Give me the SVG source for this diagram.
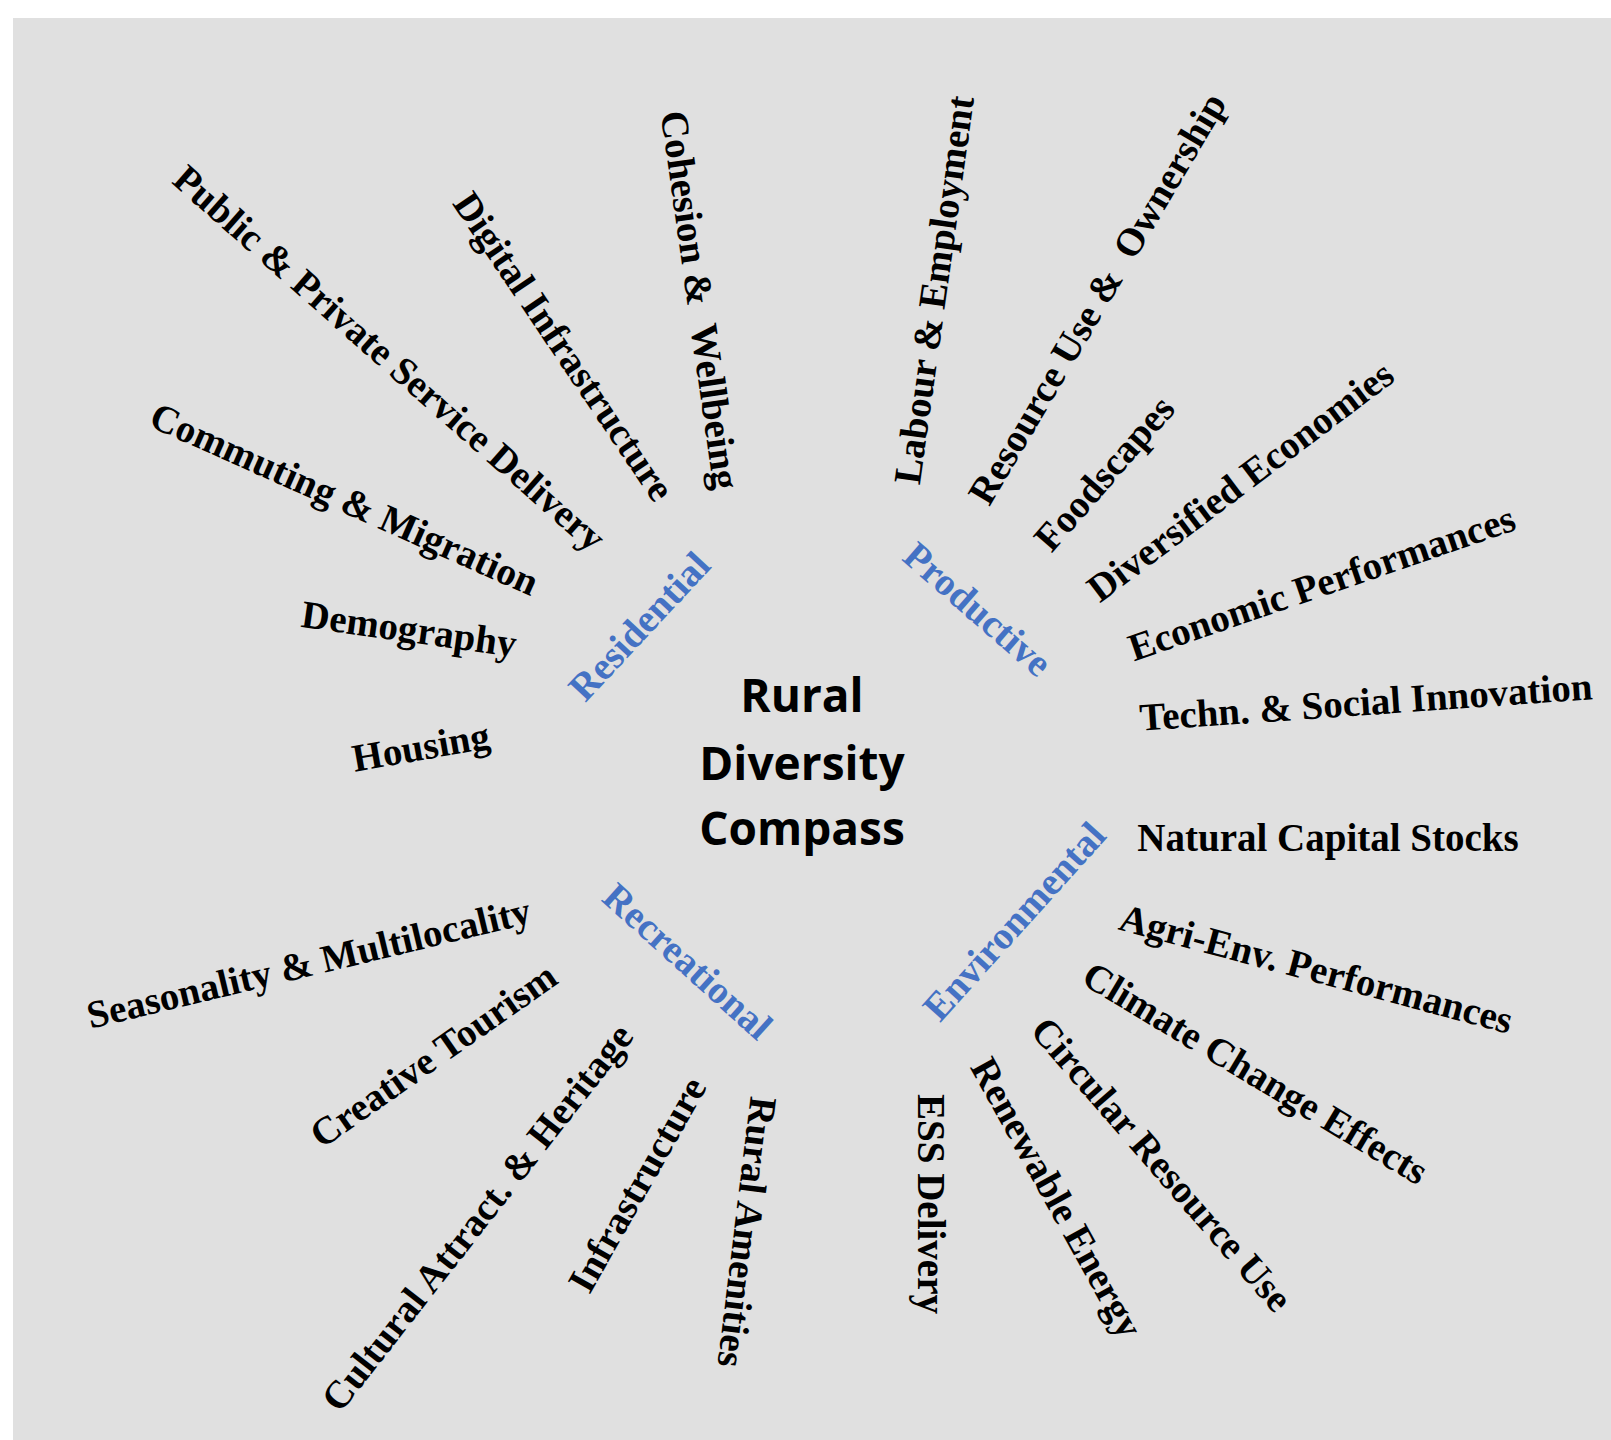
<svg xmlns="http://www.w3.org/2000/svg" width="1611" height="1440" viewBox="0 0 1611 1440">
<style>
.lbl{font-family:"Liberation Serif","Times New Roman",serif;font-weight:bold;font-size:39px;fill:#000;text-anchor:middle}
.cat{fill:#4472C4}
.title{font-family:"Open Sans","Noto Sans",sans-serif;font-weight:bold;font-size:46px;fill:#000;text-anchor:middle}
</style>
<rect x="0" y="0" width="1611" height="1440" fill="#ffffff"/>
<rect x="13" y="18" width="1598" height="1422" fill="#e0e0e0"/>
<g id="center">
<text class="title" x="802" y="712">Rural</text>
<text class="title" x="802" y="780">Diversity</text>
<text class="title" x="802" y="845">Compass</text>
</g>
<g id="cat-residential"><text class="lbl cat" transform="translate(640,627) rotate(-47)" y="12">Residential</text></g>
<g id="cat-productive"><text class="lbl cat" transform="translate(977,610) rotate(41)" y="12">Productive</text></g>
<g id="cat-environmental"><text class="lbl cat" transform="translate(1015,922) rotate(-48)" y="12">Environmental</text></g>
<g id="cat-recreational"><text class="lbl cat" transform="translate(687,962) rotate(42)" y="12">Recreational</text></g>
<g id="n-cohesion"><text class="lbl" xml:space="preserve" transform="translate(699,300) rotate(82)" y="12">Cohesion &amp;  Wellbeing</text></g>
<g id="n-digital"><text class="lbl" transform="translate(563,347) rotate(56)" y="12">Digital Infrastructure</text></g>
<g id="n-public"><text class="lbl" transform="translate(389,359) rotate(41.4)" y="12">Public &amp; Private Service Delivery</text></g>
<g id="n-commuting"><text class="lbl" transform="translate(344,500) rotate(24)" y="12">Commuting &amp; Migration</text></g>
<g id="n-demography"><text class="lbl" transform="translate(409,630) rotate(8)" y="12">Demography</text></g>
<g id="n-housing"><text class="lbl" transform="translate(421,748) rotate(-10)" y="12">Housing</text></g>
<g id="n-labour"><text class="lbl" transform="translate(935,290) rotate(-82)" y="12">Labour &amp; Employment</text></g>
<g id="n-resource"><text class="lbl" xml:space="preserve" transform="translate(1098,299) rotate(-59.5)" y="12">Resource Use &amp;  Ownership</text></g>
<g id="n-foodscapes"><text class="lbl" transform="translate(1105,474) rotate(-49)" y="12">Foodscapes</text></g>
<g id="n-diversified"><text class="lbl" transform="translate(1241,482) rotate(-37)" y="12">Diversified Economies</text></g>
<g id="n-economic"><text class="lbl" transform="translate(1322,584) rotate(-19)" y="12">Economic Performances</text></g>
<g id="n-techn"><text class="lbl" transform="translate(1366,703) rotate(-4)" y="12">Techn. &amp; Social Innovation</text></g>
<g id="n-natural"><text class="lbl" x="1328" y="851">Natural Capital Stocks</text></g>
<g id="n-agri"><text class="lbl" transform="translate(1316,970) rotate(15)" y="12">Agri-Env. Performances</text></g>
<g id="n-climate"><text class="lbl" transform="translate(1255,1074) rotate(31)" y="12">Climate Change Effects</text></g>
<g id="n-circular"><text class="lbl" transform="translate(1161,1165) rotate(49)" y="12">Circular Resource Use</text></g>
<g id="n-renewable"><text class="lbl" transform="translate(1056,1198) rotate(61)" y="12">Renewable Energy</text></g>
<g id="n-ess"><text class="lbl" transform="translate(930,1204) rotate(90)" y="12">ESS Delivery</text></g>
<g id="n-amenities"><text class="lbl" transform="translate(746,1232) rotate(97)" y="12">Rural Amenities</text></g>
<g id="n-infra"><text class="lbl" transform="translate(638,1185) rotate(-60.5)" y="12">Infrastructure</text></g>
<g id="n-cultural"><text class="lbl" transform="translate(478,1218) rotate(-52)" y="12">Cultural Attract. &amp; Heritage</text></g>
<g id="n-creative"><text class="lbl" transform="translate(434,1056) rotate(-35)" y="12">Creative Tourism</text></g>
<g id="n-seasonality"><text class="lbl" transform="translate(309,964) rotate(-13.5)" y="12">Seasonality &amp; Multilocality</text></g>
</svg>
